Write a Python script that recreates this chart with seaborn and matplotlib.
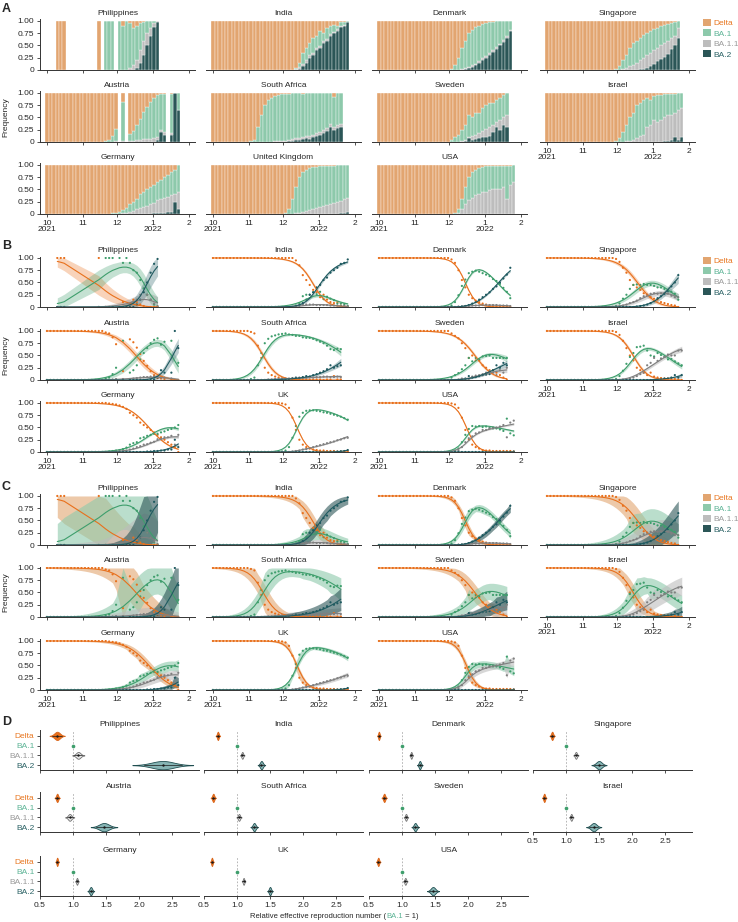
import numpy as np
import pandas as pd
import matplotlib
matplotlib.use("Agg")
import matplotlib.pyplot as plt
from matplotlib.patches import Patch
import seaborn as sns
from statistics import NormalDist

sns.set_style("ticks")
plt.rcParams["font.family"] = ["Liberation Sans", "DejaVu Sans"]
plt.rcParams["font.size"] = 6

#------ data ------
VARIANTS = ["Delta", "BA.1", "BA.1.1", "BA.2"]
COUNTRIES = ["Philippines", "India", "Denmark", "Singapore",
             "Austria", "South Africa", "Sweden", "Israel",
             "Germany", "United Kingdom", "USA"]
SHORT = {"United Kingdom": "UK"}

# sequencing dates, days since 1 Oct 2021
DAYS = {
    "Philippines": [9, 12, 15, 45, 51, 54, 57] + list(range(63, 97, 3)),
    "India": list(range(0, 118, 3)),
    "Denmark": list(range(0, 115, 3)),
    "Singapore": list(range(0, 115, 3)),
    "Austria": list(range(0, 61, 3)) + [66] + list(range(72, 103, 3)) + [108, 111, 114],
    "South Africa": list(range(0, 112, 3)),
    "Sweden": list(range(0, 112, 3)),
    "Israel": list(range(0, 118, 3)),
    "Germany": list(range(0, 115, 3)),
    "United Kingdom": list(range(0, 118, 3)),
    "USA": list(range(0, 118, 3)),
}

# omicron frequencies, aligned with the last dates of DAYS (earlier dates are all Delta)
BA1 = {
    "Philippines": [1, 1, 1, 1, .9, 1, .9, .75, .70, .55, .38, .25, .15, .05, 0],
    "India": [.03, .08, .22, .25, .25, .30, .26, .31, .16, .21, .17, .14, .07, .07, .06, .02],
    "Denmark": [.03, .10, .24, .43, .56, .69, .72, .74, .72, .69, .66, .63, .57, .53, .47, .39, .31, .18],
    "Singapore": [.02, .07, .17, .25, .37, .45, .46, .45, .47, .45, .45, .43, .40, .40, .37, .34, .31, .27, .15],
    "Austria": [.03, .05, .12, .25, .80, .15, .20, .30, .42, .55, .65, .75, .82, .85, .72, .78, .80, 0, .35],
    "South Africa": [.02, .05, .30, .55, .75, .84, .89, .91, .93, .94, .95, .93, .92, .90, .90, .87, .86, .86,
                     .84, .81, .78, .75, .70, .63, .61, .64, .63],
    "Sweden": [.05, .10, .14, .22, .30, .45, .38, .45, .42, .48, .49, .50, .45, .45, .45, .45, .45],
    "Israel": [.02, .08, .19, .33, .47, .55, .67, .68, .70, .60, .50, .48, .55, .51, .47, .42, .43, .38, .34, .30],
    "Germany": [.01, .02, .03, .04, .06, .09, .15, .18, .20, .28, .30, .33, .35, .37, .37, .40, .42, .45, .47, .50, .55],
    "United Kingdom": [.01, .03, .10, .29, .53, .72, .80, .84, .85, .85, .84, .83, .81, .80, .78, .76, .74, .72, .69, .66],
    "USA": [.01, .03, .07, .20, .35, .47, .53, .52, .53, .51, .52, .49, .48, .48, .46, .43, .68, .38, .34],
}
BA11 = {
    "Philippines": [0, 0, 0, 0, 0, 0, .05, .10, .15, .25, .30, .25, .15, .07, .02],
    "India": [.02, .04, .05, .05, .05, .05, .04, .04, .04, .04, .03, .03, .03, .02, .02, .01],
    "Denmark": [0, 0, .01, .01, .02, .02, .03, .03, .03, .04, .04, .04, .04, .04, .03, .03, .03, .02],
    "Singapore": [0, .01, .03, .05, .08, .10, .13, .18, .22, .25, .27, .28, .27, .28, .28, .27, .23, .20, .20],
    "Austria": [0, 0, .01, .02, .02, .02, .03, .04, .05, .06, .06, .07, .07, .06, .05, .05, .03, 0, 0],
    "South Africa": [0, 0, 0, 0, 0, .01, .01, .02, .02, .03, .03, .03, .04, .04, .05, .05, .05, .06,
                     .05, .06, .06, .07, .07, .06, .06, .07, .06],
    "Sweden": [0, 0, .01, .03, .02, .02, .07, .09, .10, .12, .15, .18, .15, .10, .20, .15, .25],
    "Israel": [0, 0, .01, .02, .03, .05, .08, .12, .15, .30, .35, .45, .39, .44, .47, .52, .50, .50, .60, .60],
    "Germany": [0, 0, 0, .01, .02, .03, .05, .07, .10, .12, .15, .16, .19, .21, .26, .27, .30, .30, .33, .15, .35],
    "United Kingdom": [0, 0, 0, .01, .02, .03, .05, .06, .08, .10, .12, .14, .16, .18, .20, .215, .24, .255, .28, .29],
    "USA": [0, 0, .03, .10, .20, .28, .32, .38, .40, .45, .45, .48, .50, .50, .52, .55, .30, .60, .64],
}
BA2 = {
    "Philippines": [0, 0, 0, 0, 0, 0, 0, 0, .05, .15, .30, .50, .70, .88, .98],
    "India": [0, .03, .08, .15, .25, .30, .40, .45, .55, .60, .70, .75, .80, .88, .90, .97],
    "Denmark": [0, 0, 0, .01, .02, .04, .07, .10, .15, .20, .25, .30, .37, .42, .50, .58, .66, .80],
    "Singapore": [0, 0, 0, 0, 0, 0, .01, .02, .03, .05, .08, .12, .18, .22, .27, .33, .42, .50, .65],
    "Austria": [0, 0, 0, 0, 0, 0, 0, 0, 0, 0, 0, 0, .01, .05, .20, .15, .15, 1.0, .65],
    "South Africa": [0] * 11 + [.02, .03, .05, .04, .06, .08, .07, .10, .12, .15, .18, .22, .30, .25, .28, .30],
    "Sweden": [0, 0, 0, 0, .03, .08, .05, .06, .08, .10, .11, .12, .20, .30, .25, .35, .30],
    "Israel": [0] * 12 + [.01, .01, .03, .03, .05, .10, .05, .10],
    "Germany": [0] * 11 + [.01, .01, .02, .02, .03, .03, .05, .05, .25, .10],
    "United Kingdom": [0] * 15 + [.005, .01, .015, .02, .04],
    "USA": [0] * 18 + [.01],
}
# sequences per sampling date (sets the width of the fitted intervals)
N_SEQ = {"Philippines": 4, "India": 80, "Denmark": 300, "Singapore": 25, "Austria": 15,
         "South Africa": 40, "Sweden": 60, "Israel": 60, "Germany": 200,
         "United Kingdom": 800, "USA": 400}

# relative effective reproduction number (BA.1 = 1): posterior mean and sd
RE_DELTA = [0.76, 0.71, 0.65, 0.79, 0.76, 0.64, 0.73, 0.67, 0.76, 0.62, 0.64]
SD_DELTA = [0.04, 0.012, 0.01, 0.014, 0.014, 0.014, 0.014, 0.012, 0.01, 0.01, 0.012]
RE_BA11 = [1.08, 1.08, 1.14, 1.15, 0.95, 1.03, 1.06, 1.08, 1.06, 1.10, 1.05]
SD_BA11 = [0.032, 0.012, 0.01, 0.014, 0.024, 0.014, 0.012, 0.012, 0.01, 0.01, 0.012]
RE_BA2 = [2.36, 1.37, 1.27, 1.50, 1.47, 1.26, 1.20, 1.42, 1.27, 1.50, 1.47]
SD_BA2 = [0.16, 0.02, 0.015, 0.04, 0.07, 0.02, 0.02, 0.04, 0.018, 0.015, 0.032]

MONTH_DAYS = [0, 31, 61, 92, 123]
MONTH_LABELS = ["10\n2021", "11", "12", "1\n2022", "2"]

BAR_COLORS = {"Delta": "#E2A570", "BA.1": "#8DC9AB", "BA.1.1": "#BDBDBD", "BA.2": "#2B5657"}
LINE_COLORS = {"Delta": "#E8701C", "BA.1": "#3E9E6C", "BA.1.1": "#808080", "BA.2": "#1F5A60"}
TEXT_COLORS = {"Delta": "#E8751E", "BA.1": "#5DB496", "BA.1.1": "#9A9A9A", "BA.2": "#2B6265"}

#------ layout (pixels) ------
W, H = 738, 922
COL_X = [40, 206, 372, 540]
COL_W = 155
ROW_BOTTOM = {"A": [70, 142, 214], "B": [307, 380, 452], "C": [545, 617, 690]}
ROW_H = 50.5
D_COL_X = [40, 204, 369, 533]
D_W = 159
D_BOTTOM = [770, 832, 896]
D_H = 40
FS = 6


def add_ax(fig, left, bottom, width, height):
    return fig.add_axes([left / W, 1 - bottom / H, width / W, height / H])


def obs_matrix(c):
    days = np.array(DAYS[c], float)
    k = len(BA1[c])
    P = np.zeros((len(days), 4))
    P[-k:, 1] = BA1[c]
    P[-k:, 2] = BA11[c]
    P[-k:, 3] = BA2[c]
    P[:, 0] = np.clip(1 - P[:, 1:].sum(axis=1), 0, 1)
    P = P / P.sum(axis=1, keepdims=True)
    return days, P


def softmax(eta):
    e = np.exp(eta - eta.max(axis=1, keepdims=True))
    return e / e.sum(axis=1, keepdims=True)


def design(days):
    x = (days - 80.0) / 30.0
    return np.column_stack([np.ones_like(x), x])


def fit_mlr(days, P, n, ridge=0.1):
    # multinomial logistic growth model, Delta as reference
    X = design(days)
    theta = np.zeros((3, 2))
    for _ in range(300):
        p = softmax(np.column_stack([np.zeros(len(days)), X @ theta.T]))
        q = p[:, 1:]
        grad = (n * (P[:, 1:] - q)).T @ X - ridge * theta
        hess = ridge * np.eye(6)
        for i in range(len(days)):
            hess += n * np.kron(np.diag(q[i]) - np.outer(q[i], q[i]), np.outer(X[i], X[i]))
        step = np.linalg.solve(hess, grad.ravel()).reshape(3, 2)
        m = np.abs(step).max()
        if m > 2:
            step *= 2 / m
        theta += step
        if m < 1e-9:
            break
    return theta, np.linalg.inv(hess)


def predict(theta, cov, days):
    X = design(days)
    p = softmax(np.column_stack([np.zeros(len(days)), X @ theta.T]))
    sd = np.zeros_like(p)
    for i in range(len(days)):
        for k in range(4):
            g = np.zeros((3, 2))
            for j in range(3):
                g[j] = p[i, k] * (float(k == j + 1) - p[i, j + 1]) * X[i]
            g = g.ravel()
            sd[i, k] = np.sqrt(max(g @ cov @ g, 0))
    return p, sd


def long_frame(days, M, name):
    return pd.DataFrame({"day": np.repeat(days, 4),
                         "variant": VARIANTS * len(days),
                         name: M.ravel()})


def style_time_ax(ax, c, row, col, title):
    ax.set_xlim(-6, 128.5)
    ax.set_ylim(0, 1.03)
    ax.set_xticks(MONTH_DAYS)
    if row == 2 or c == "Israel":
        ax.set_xticklabels(MONTH_LABELS, linespacing=0.85)
    else:
        ax.set_xticklabels([])
    ax.set_yticks([0, .25, .5, .75, 1])
    if col == 0:
        ax.set_yticklabels(["0", "0.25", "0.50", "0.75", "1.00"])
    else:
        ax.tick_params(left=False, labelleft=False)
    sns.despine(ax=ax, left=(col != 0))
    for s in ["left", "bottom"]:
        ax.spines[s].set_linewidth(0.7)
        ax.spines[s].set_color("#333333")
    ax.tick_params(length=2.5, width=0.6, labelsize=FS, pad=1.5, color="#333333")
    ax.set_xlabel("")
    ax.set_ylabel("")
    ax.set_title(title, fontsize=FS, pad=3)


fits = {}
for c in COUNTRIES:
    days, P = obs_matrix(c)
    theta, cov = fit_mlr(days, P, N_SEQ[c])
    p, sd = predict(theta, cov, days)
    fits[c] = (days, P, p, sd)

fig = plt.figure(figsize=(W / 100, H / 100), dpi=100)

#------ A: observed frequencies ------
for i, c in enumerate(COUNTRIES):
    row, col = divmod(i, 4)
    ax = add_ax(fig, COL_X[col], ROW_BOTTOM["A"][row], COL_W, ROW_H)
    days, P, p, sd = fits[c]
    df = long_frame(days, P, "freq")
    sns.histplot(data=df, x="day", weights="freq", hue="variant", hue_order=VARIANTS,
                 multiple="stack", binwidth=3, binrange=(-1.5, 127.5), palette=BAR_COLORS,
                 alpha=1, edgecolor="white", linewidth=0.25, legend=False, ax=ax)
    style_time_ax(ax, c, row, col, c)

#------ B and C: fitted frequencies ------
for panel in ["B", "C"]:
    for i, c in enumerate(COUNTRIES):
        row, col = divmod(i, 4)
        ax = add_ax(fig, COL_X[col], ROW_BOTTOM[panel][row], COL_W, ROW_H)
        days, P, p, sd = fits[c]
        for k, v in enumerate(VARIANTS):
            lo = np.clip(p[:, k] - 1.96 * sd[:, k], 0, 1)
            hi = np.clip(p[:, k] + 1.96 * sd[:, k], 0, 1)
            if panel == "B":
                ax.fill_between(days, lo, hi, color=LINE_COLORS[v], alpha=0.3, lw=0)
            else:
                se = 1.96 * np.sqrt(p[:, k] * (1 - p[:, k]) / N_SEQ[c])
                lo_c = np.clip(np.minimum(P[:, k], lo) - se, 0, 1)
                hi_c = np.clip(np.maximum(P[:, k], hi) + se, 0, 1)
                ax.fill_between(days, lo_c, hi_c, color=BAR_COLORS[v], alpha=0.6, lw=0)
        sns.scatterplot(data=long_frame(days, P, "freq"), x="day", y="freq", hue="variant",
                        hue_order=VARIANTS, palette=LINE_COLORS, s=2.5, linewidth=0,
                        legend=False, ax=ax)
        sns.lineplot(data=long_frame(days, p, "fit"), x="day", y="fit", hue="variant",
                     hue_order=VARIANTS, palette=LINE_COLORS, linewidth=0.8,
                     errorbar=None, legend=False, ax=ax)
        style_time_ax(ax, c, row, col, SHORT.get(c, c))

#------ D: relative effective reproduction number ------
Z = np.array([NormalDist().inv_cdf(q) for q in np.linspace(0.002, 0.998, 300)])
fills = {"Delta": "#E8701C", "BA.1.1": "#E6E6E6", "BA.2": "#86B4B4"}
edges_d = {"Delta": "#D9651A", "BA.1.1": "#707070", "BA.2": "#1F4E50"}
for i, c in enumerate(COUNTRIES):
    row, col = divmod(i, 4)
    ax = add_ax(fig, D_COL_X[col], D_BOTTOM[row], D_W, D_H)
    ax.axvline(1.0, color="#AAAAAA", lw=0.6, ls=(0, (2, 2)), zorder=0)
    est = {"Delta": (RE_DELTA[i], SD_DELTA[i]), "BA.1.1": (RE_BA11[i], SD_BA11[i]),
           "BA.2": (RE_BA2[i], SD_BA2[i])}
    for v, (mu, s) in est.items():
        dfv = pd.DataFrame({"value": mu + s * Z, "variant": v})
        sns.violinplot(data=dfv, x="value", y="variant", order=VARIANTS, orient="h",
                       color=fills[v], linecolor=edges_d[v], linewidth=0.6, inner=None,
                       cut=0, width=0.85 if v != "BA.1.1" else 0.7, saturation=1, ax=ax)
        y = VARIANTS.index(v)
        ax.plot([mu - 1.8 * s, mu + 1.8 * s], [y, y], color="#1a1a1a", lw=0.5)
        ax.scatter([mu], [y], s=3, color="#1a1a1a", zorder=5, linewidths=0)
    ax.scatter([1.0], [1], s=7, color=LINE_COLORS["BA.1"], zorder=5, linewidths=0)
    ax.set_xlim(0.5, 0.5 + D_W / 66)
    ax.set_ylim(3.5, -0.6)
    ax.set_xticks([0.5, 1.0, 1.5, 2.0, 2.5])
    if row == 2 or c == "Israel":
        ax.set_xticklabels(["0.5", "1.0", "1.5", "2.0", "2.5"])
    else:
        ax.set_xticklabels([])
    ax.set_yticks(range(4))
    if col == 0:
        ax.set_yticklabels(VARIANTS)
        for lbl, v in zip(ax.get_yticklabels(), VARIANTS):
            lbl.set_color(TEXT_COLORS[v])
    else:
        ax.tick_params(left=False, labelleft=False)
    sns.despine(ax=ax, left=(col != 0))
    for s in ["left", "bottom"]:
        ax.spines[s].set_linewidth(0.7)
        ax.spines[s].set_color("#333333")
    ax.tick_params(length=2.5, width=0.6, labelsize=FS, pad=1.5, color="#333333")
    ax.set_xlabel("")
    ax.set_ylabel("")
    ax.set_title(SHORT.get(c, c), fontsize=FS, pad=3)

#------ labels and legends ------
for letter, y in zip("ABCD", [3, 240, 481, 716]):
    fig.text(2 / W, 1 - y / H, letter, fontsize=9, fontweight="bold", va="top")
for y in [117, 355, 592]:
    fig.text(6 / W, 1 - y / H, "Frequency", rotation=90, va="center", ha="center", fontsize=FS)

handles = [Patch(facecolor=BAR_COLORS[v], edgecolor="none") for v in VARIANTS]
for y in [19, 257, 494]:
    fig.legend(handles, VARIANTS, loc="upper left", bbox_to_anchor=(703 / W, 1 - y / H),
               frameon=False, fontsize=FS, handlelength=0.9, handleheight=0.9,
               labelspacing=0.25, handletextpad=0.4, borderpad=0, borderaxespad=0,
               labelcolor=[TEXT_COLORS[v] for v in VARIANTS])

t1 = fig.text(250 / W, 1 - 918 / H, "Relative effective reproduction number (", fontsize=5.5, va="baseline")
t2 = plt.annotate("BA.1", xy=(1, 0), xycoords=t1, va="bottom", ha="left", fontsize=5.5,
                  color=TEXT_COLORS["BA.1"])
plt.annotate(" = 1)", xy=(1, 0), xycoords=t2, va="bottom", ha="left", fontsize=5.5)

fig.savefig("out.png", dpi=100)
